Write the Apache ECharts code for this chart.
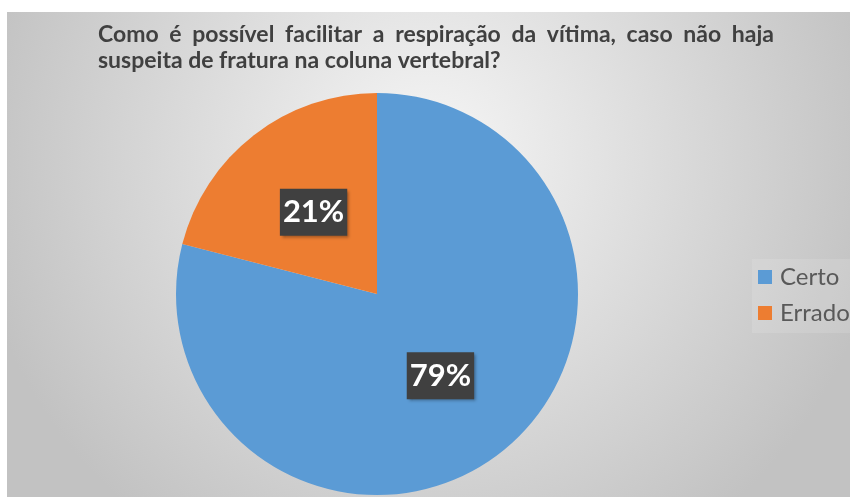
<!DOCTYPE html>
<html lang="pt">

<head>
    <meta charset="UTF-8">
    <title>Respiração da vítima</title>
    <style>
        html, body { margin: 0; padding: 0; background: #fff; }
        #chart { width: 850px; height: 499px; }
    </style>
    <script src="https://cdn.jsdelivr.net/npm/echarts@6/dist/echarts.min.js"></script>
</head>

<body>
    <div id="chart"></div>
    <script>
        // dados
        var categories = ['Certo', 'Errado'];
        var values = [79, 21];
        var colors = ['#5B9BD5', '#ED7D31'];

        var titleLine1 = 'Como é possível facilitar a respiração da vítima, caso não haja';
        var titleLine2 = 'suspeita de fratura na coluna vertebral?';

        var titleFont = 'Lato';
        var titleSize = 23;

        // a primeira linha do título é justificada: calcula o espaço entre as palavras
        function justify(line, targetWidth) {
            var ctx = document.createElement('canvas').getContext('2d');
            ctx.font = 'bold ' + titleSize + 'px ' + titleFont;
            var words = line.split(' ');
            var total = 0;
            words.forEach(function (w) { total += ctx.measureText(w).width; });
            var gap = (targetWidth - total) / (words.length - 1);
            return { text: words.join('{s| }'), gap: Math.max(gap, 4) };
        }

        var j = justify(titleLine1, 676);

        var chart = echarts.init(document.getElementById('chart'));

        var option = {
            animation: false,
            graphic: [{
                type: 'rect',
                z: -10,
                shape: { x: 7, y: 12, width: 843, height: 485 },
                style: {
                    fill: {
                        type: 'radial', x: 0.5, y: 0.3, r: 0.95,
                        colorStops: [
                            { offset: 0, color: '#f6f6f6' },
                            { offset: 1, color: '#c2c2c2' }
                        ]
                    }
                }
            }],
            title: {
                left: 93,
                top: 17,
                text: j.text + '\n' + titleLine2,
                textStyle: {
                    fontFamily: titleFont,
                    fontSize: titleSize,
                    fontWeight: 'bold',
                    color: '#404040',
                    lineHeight: 26,
                    rich: {
                        s: { width: j.gap, fontSize: titleSize, lineHeight: 26 }
                    }
                }
            },
            legend: {
                orient: 'vertical',
                left: 752,
                top: 259,
                padding: [6, 6, 8, 6],
                backgroundColor: 'rgba(255,255,255,0.12)',
                itemWidth: 14,
                itemHeight: 14,
                itemGap: 12,
                icon: 'rect',
                data: categories,
                textStyle: {
                    fontFamily: 'Lato',
                    fontSize: 24,
                    color: '#595959',
                    padding: [0, 0, 0, 3]
                }
            },
            series: [{
                type: 'pie',
                center: [377, 294],
                radius: 201,
                startAngle: 90,
                clockwise: true,
                color: colors,
                label: {
                    position: 'inside',
                    formatter: '{d}%',
                    fontFamily: 'Lato',
                    fontSize: 31,
                    fontWeight: 'bold',
                    color: '#ffffff',
                    backgroundColor: '#404040',
                    padding: [9, 3, 7, 3],
                    shadowColor: 'rgba(0,0,0,0.35)',
                    shadowBlur: 3,
                    shadowOffsetX: 2,
                    shadowOffsetY: 2
                },
                labelLine: { show: false },
                emphasis: { disabled: true },
                data: categories.map(function (c, i) {
                    return { name: c, value: values[i] };
                })
            }]
        };

        chart.setOption(option);
    </script>
</body>

</html>
